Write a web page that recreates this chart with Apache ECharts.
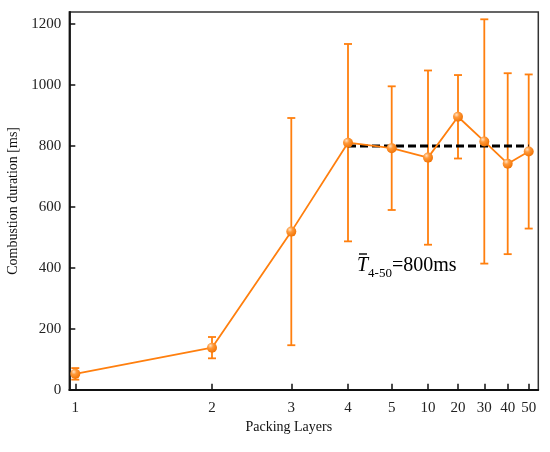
<!DOCTYPE html>
<html>
<head>
<meta charset="utf-8">
<script src="https://cdn.jsdelivr.net/npm/echarts@6/dist/echarts.min.js"></script>
<style>
  html, body { margin: 0; padding: 0; background: #fff; }
  #chart { width: 550px; height: 452px; }
</style>
</head>
<body>
<div id="chart"></div>
<script>
// packing layers (tick labels) and where each sits along the broken x axis
var layers = ['1', '2', '3', '4', '5', '10', '20', '30', '40', '50'];
var layerPos = [6, 142.7, 222, 278.7, 322.4, 358.7, 388.7, 415, 438.4, 459.4];
var axisSpan = 469;

// combustion duration [ms], mean and +/- error
var duration = [52, 138, 519, 811, 793, 762, 896, 815, 742, 782];
var durationErr = [19, 35, 373, 324, 203, 286, 137, 401, 297, 253];

// average over 4-50 layers
var meanValue = 800;

var orange = '#ff7f0e';
var font = 'Liberation Serif';

var lineData = [];
var errData = [];
for (var i = 0; i < layers.length; i++) {
  lineData.push([layerPos[i], duration[i]]);
  errData.push([layerPos[i], duration[i] - durationErr[i], duration[i] + durationErr[i]]);
}
var meanData = [[layerPos[3], meanValue], [layerPos[layers.length - 1], meanValue]];

var chart = echarts.init(document.getElementById('chart'));

var option = {
  animation: false,
  backgroundColor: '#fff',
  grid: {
    left: 69.3, right: 11.7, top: 12, bottom: 62.3,
    outerBoundsMode: 'none',
    containLabel: false,
    show: true, borderColor: '#333', borderWidth: 1.5
  },
  xAxis: {
    type: 'value',
    min: 0,
    max: axisSpan,
    name: 'Packing Layers',
    nameLocation: 'middle',
    nameGap: 31,
    nameTextStyle: { fontFamily: font, fontSize: 14, color: '#111', padding: [0, 30, 0, 0] },
    splitLine: { show: false },
    axisLine: { onZero: false, lineStyle: { color: '#111', width: 1.8 } },
    axisTick: { inside: true, length: 6, customValues: layerPos, lineStyle: { color: '#111', width: 1.5 } },
    axisLabel: {
      customValues: layerPos,
      margin: 11,
      fontFamily: font, fontSize: 15, color: '#222',
      formatter: function (v) {
        for (var k = 0; k < layerPos.length; k++) {
          if (Math.abs(layerPos[k] - v) < 0.01) return layers[k];
        }
        return '';
      }
    }
  },
  yAxis: {
    type: 'value',
    min: 0,
    max: 1240,
    interval: 200,
    name: 'Combustion duration [ms]',
    nameLocation: 'middle',
    nameGap: 44,
    nameTextStyle: { fontFamily: font, fontSize: 14, color: '#111' },
    splitLine: { show: false },
    axisLine: { show: true, lineStyle: { color: '#111', width: 1.8 } },
    axisTick: { inside: true, length: 6, lineStyle: { color: '#111', width: 1.5 } },
    axisLabel: {
      margin: 8, fontFamily: font, fontSize: 15, color: '#222', showMaxLabel: false,
      formatter: function (v) { return String(v); }
    }
  },
  series: [
    {
      name: 'error',
      type: 'custom',
      z: 2,
      data: errData,
      renderItem: function (params, api) {
        var x = api.value(0);
        var lo = api.coord([x, api.value(1)]);
        var hi = api.coord([x, api.value(2)]);
        var cap = 4;
        var style = { stroke: orange, lineWidth: 1.8, fill: null };
        return {
          type: 'group',
          children: [
            { type: 'line', shape: { x1: lo[0], y1: lo[1], x2: hi[0], y2: hi[1] }, style: style },
            { type: 'line', shape: { x1: lo[0] - cap, y1: lo[1], x2: lo[0] + cap, y2: lo[1] }, style: style },
            { type: 'line', shape: { x1: hi[0] - cap, y1: hi[1], x2: hi[0] + cap, y2: hi[1] }, style: style }
          ]
        };
      }
    },
    {
      name: 'mean',
      type: 'line',
      z: 3,
      data: meanData,
      symbol: 'none',
      lineStyle: { color: '#000', width: 3, type: [8, 4] }
    },
    {
      name: 'duration',
      type: 'line',
      z: 4,
      data: lineData,
      symbol: 'circle',
      symbolSize: 10,
      lineStyle: { color: orange, width: 1.8 },
      itemStyle: {
        color: new echarts.graphic.RadialGradient(0.35, 0.3, 0.75, [
          { offset: 0, color: '#ffe2c4' },
          { offset: 0.35, color: '#ff9a3c' },
          { offset: 1, color: '#f07000' }
        ])
      }
    }
  ],
  graphic: [
    {
      type: 'text',
      left: 357,
      top: 256,
      style: {
        text: '{t|T}{s|4-50}{n|=800ms}',
        rich: {
          t: { fontFamily: font, fontStyle: 'italic', fontSize: 20, color: '#111', lineHeight: 20, verticalAlign: 'bottom' },
          s: { fontFamily: font, fontSize: 13, color: '#111', lineHeight: 12, verticalAlign: 'bottom', padding: [0, 0, -4, 0] },
          n: { fontFamily: font, fontSize: 20, color: '#111', lineHeight: 20, verticalAlign: 'bottom' }
        }
      }
    },
    {
      type: 'line',
      shape: { x1: 359, y1: 254, x2: 367, y2: 254 },
      style: { stroke: '#111', lineWidth: 1.5 }
    }
  ]
};

chart.setOption(option);
</script>
</body>
</html>
